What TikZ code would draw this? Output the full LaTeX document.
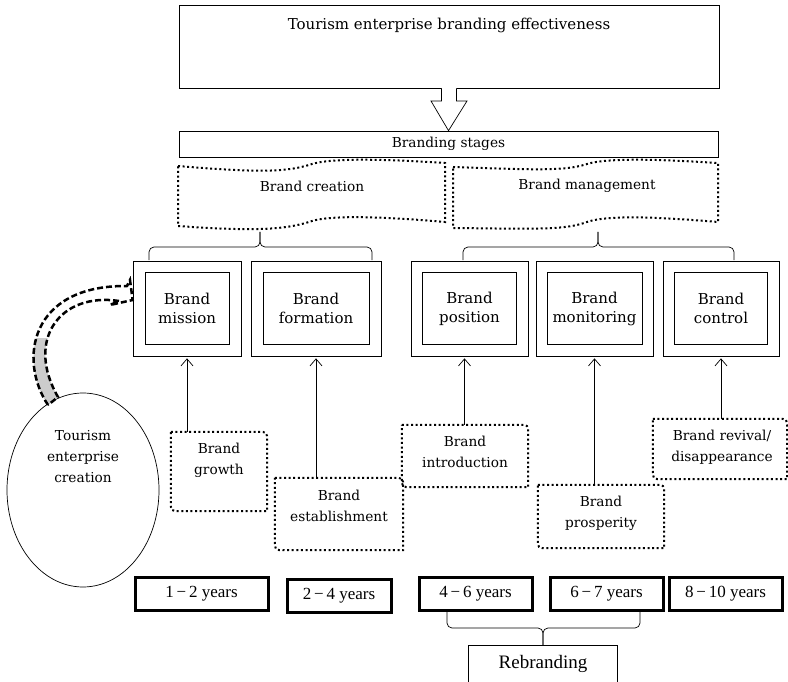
\documentclass[tikz,border=0pt]{standalone}
\usepackage{fontspec}
\setmainfont{DejaVu Serif}
\newfontfamily\timesf{Liberation Serif}
\usetikzlibrary{arrows.meta,shapes.geometric}
\tikzset{
  thinline/.style={line width=0.7pt},
  bigtext/.style={font=\fontsize{15}{19}\selectfont},
  midtext/.style={font=\fontsize{13.7}{21}\selectfont},
  outerbox/.style={draw, thinline, inner sep=0pt, minimum height=95pt},
  innerbox/.style={draw, thinline, inner sep=0pt, minimum height=72pt, align=center, bigtext},
  dotline/.style={line width=2pt, dash pattern=on 2pt off 2.6pt},
  dotnode/.style={shape=rectangle, inner sep=0pt},
  boxtext/.style={align=center, midtext, inner sep=0pt},
  yearbox/.style={draw, line width=3pt, inner sep=0pt, minimum height=33pt, font=\timesf\fontsize{17}{19}\selectfont},
  uparrow/.style={thinline, -{Straight Barb[length=7pt,width=12pt]}, shorten >=2pt},
  dasharrow/.style={line width=2.5pt, dash pattern=on 6pt off 3pt},
}
\newcommand\snipdraw[2][10]{%
  \draw[dotline] (#2.north west) -- ([xshift=-#1pt]#2.north east)
    .. controls (#2.north east) .. ([yshift=-#1pt]#2.north east)
    -- (#2.south east) -- ([xshift=#1pt]#2.south west)
    .. controls (#2.south west) .. ([yshift=#1pt]#2.south west) -- cycle;}
\newcommand\yrs[2]{#1\,−\,#2 years}
\begin{document}
\begin{tikzpicture}[x=1pt,y=-1pt]
\useasboundingbox (0,0) rectangle (788,682);

% top box and stages
\node[draw, thinline, minimum width=540pt, minimum height=83pt, inner sep=0pt] (top) at (449,46.5) {};
\node[bigtext] (toptext) at (449,25) {Tourism enterprise branding effectiveness};
\node[draw, thinline, minimum width=539pt, minimum height=26pt, inner sep=0pt, midtext] (stages) at (448.5,144) {Branding stages};

% hollow arrow
\fill[white] ([xshift=-7.5pt,yshift=0.5pt]top.south) -- ([xshift=-7.5pt]top.south |- 0,101) -- (431,101) -- (stages.north) -- (467,101) -- ([xshift=7.5pt]top.south |- 0,101) -- ([xshift=7.5pt,yshift=0.5pt]top.south) -- cycle;
\draw[thinline] ([xshift=-7.5pt]top.south) -- ([xshift=-7.5pt]top.south |- 0,101) -- (431,101) -- (stages.north) -- (467,101) -- ([xshift=7.5pt]top.south |- 0,101) -- ([xshift=7.5pt]top.south);

% wavy shapes
\draw[dotline] (178,166) .. controls (260,173) and (288,172) .. (312,164) .. controls (335,157) and (400,160) .. (445,163)
  -- (445,222) .. controls (400,218) and (335,214) .. (312,221) .. controls (288,229) and (260,232) .. (178,226) -- cycle;
\node[midtext] (creation) at (312,186) {Brand creation};
\draw[dotline] (453,167) .. controls (540,170) and (565,171) .. (587,164) .. controls (610,157) and (670,160) .. (718,163)
  -- (718,222) .. controls (670,218) and (610,214) .. (587,222) .. controls (565,230) and (540,229) .. (453,228) -- cycle;
\node[midtext] (management) at (587,186) {Brand management};

% braces
\draw[thinline, rounded corners=5pt] (149,260) -- (149,247) -- (260,247) -- (260,232);
\draw[thinline, rounded corners=5pt] (372,260) -- (372,247) -- (260,247) -- (260,232);
\draw[thinline, rounded corners=5pt] (463,260) -- (463,247) -- (598,247) -- (598,232);
\draw[thinline, rounded corners=5pt] (734,260) -- (734,247) -- (598,247) -- (598,232);

% double boxes
\node[outerbox, minimum width=108pt] (mission) at (187,308.5) {};
\node[innerbox, minimum width=84pt] (missionin) at (mission.center) {Brand\\mission};
\node[outerbox, minimum width=130pt] (formation) at (316,308.5) {};
\node[innerbox, minimum width=106pt] (formationin) at (formation.center) {Brand\\formation};
\node[outerbox, minimum width=117pt] (position) at (469.5,308.5) {};
\node[innerbox, minimum width=94pt] (positionin) at (position.center) {Brand\\position};
\node[outerbox, minimum width=117pt] (monitoring) at (594.5,308.5) {};
\node[innerbox, minimum width=95pt] (monitoringin) at (monitoring.center) {Brand\\monitoring};
\node[outerbox, minimum width=116pt] (control) at (721,308.5) {};
\node[innerbox, minimum width=93pt] (controlin) at (control.center) {Brand\\control};

% dotted phase boxes
\node[dotnode, minimum width=96pt, minimum height=79pt] (growth) at (219,471.5) {};
\snipdraw{growth}
\node[boxtext] (growtht) at (219,460) {Brand\\growth};
\node[dotnode, minimum width=128pt, minimum height=72pt] (establish) at (339,514) {};
\snipdraw{establish}
\node[boxtext] (establisht) at (339,506) {Brand\\establishment};
\node[dotnode, minimum width=126pt, minimum height=62pt] (intro) at (465,456) {};
\snipdraw{intro}
\node[boxtext] (introt) at (465,452) {Brand\\introduction};
\node[dotnode, minimum width=126pt, minimum height=63pt] (prosper) at (601,516.5) {};
\snipdraw{prosper}
\node[boxtext] (prospert) at (601,513) {Brand\\prosperity};
\node[dotnode, minimum width=134pt, minimum height=60pt] (revival) at (720,449) {};
\snipdraw{revival}
\node[boxtext] (revivalt) at (722,447) {Brand revival/\\disappearance};

% arrows up
\draw[uparrow] (growth.north -| mission.south) -- (mission.south);
\draw[uparrow] (establish.north -| formation.south) -- (formation.south);
\draw[uparrow] ([xshift=-5pt]intro.north -| position.south) -- ([xshift=-5pt]position.south);
\draw[uparrow] (prosper.north -| monitoring.south) -- (monitoring.south);
\draw[uparrow] (revival.north -| control.south) -- (control.south);

% ellipse
\node[draw, thinline, ellipse, minimum width=152pt, minimum height=194pt, inner sep=0pt] (ell) at (83,490) {};
\node[boxtext] (ellt) at (83,457) {Tourism\\enterprise\\creation};

% curved dashed arrow from ellipse to mission
\begin{scope}
  \clip (0,338) rectangle (200,420);
  \fill[gray!40] (48,405) .. controls (18,360) and (30,285) .. (127,286) -- (130,280) -- (134,300) -- (110,305) -- (119,301)
    .. controls (60,292) and (25,340) .. (58,397) -- cycle;
\end{scope}
\draw[dasharrow] (48,405) .. controls (18,360) and (30,285) .. (127,286) -- (130,280) -- (mission.west |- 0,300) -- (110,305) -- (119,301)
    .. controls (60,292) and (25,340) .. (58,397) -- cycle;

% year boxes
\node[yearbox, minimum width=133pt] (y1) at (201.5,593.5) {\yrs{1}{2}};
\node[yearbox, minimum width=104pt] (y2) at (339,596) {\yrs{2}{4}};
\node[yearbox, minimum width=113pt] (y3) at (475.5,593.5) {\yrs{4}{6}};
\node[yearbox, minimum width=113pt] (y4) at (606.5,593.5) {\yrs{6}{7}};
\node[yearbox, minimum width=113pt] (y5) at (725.5,593.5) {\yrs{8}{10}};

% rebranding
\draw[thinline, rounded corners=5pt] (447,611.5) -- (447,628) -- (543,628) -- (543,645);
\draw[thinline, rounded corners=5pt] (640,611.5) -- (640,628) -- (543,628) -- (543,645);
\node[draw, thinline, minimum width=149pt, minimum height=50pt, inner sep=0pt, anchor=north] (rebrand) at (543,645) {};
\node[font=\timesf\fontsize{19}{21}\selectfont] (rebrandt) at (543,664) {Rebranding};
\end{tikzpicture}
\end{document}
